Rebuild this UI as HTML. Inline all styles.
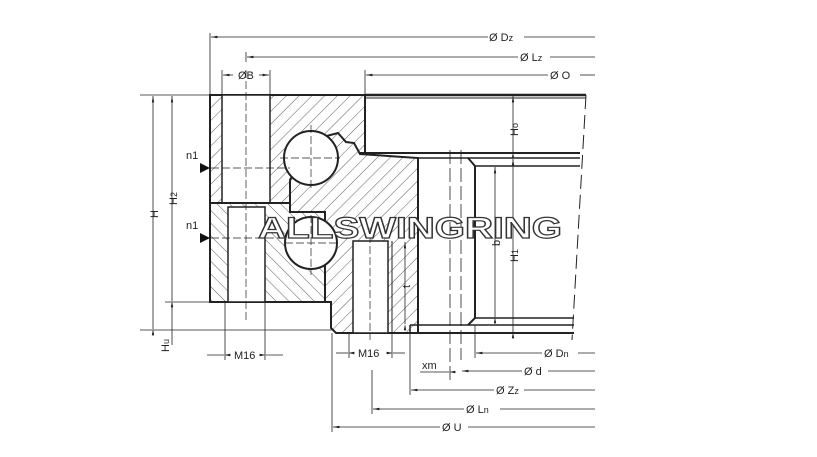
<!DOCTYPE html>
<html><head><meta charset="utf-8"><style>
html,body{margin:0;padding:0;background:#fff;}
svg{display:block;}
text{font-family:"Liberation Sans",Arial,sans-serif;fill:#222;}
</style></head><body>
<svg width="817" height="457" viewBox="0 0 817 457" xmlns="http://www.w3.org/2000/svg">
<defs>
<pattern id="hf" width="9" height="9" patternUnits="userSpaceOnUse" patternTransform="rotate(45)">
<rect width="9" height="9" fill="#fff"/><line x1="0" y1="0" x2="0" y2="9" stroke="#333" stroke-width="0.8"/></pattern>
<pattern id="hb" width="9" height="9" patternUnits="userSpaceOnUse" patternTransform="rotate(-45)">
<rect width="9" height="9" fill="#fff"/><line x1="0" y1="0" x2="0" y2="9" stroke="#333" stroke-width="0.8"/></pattern>
<marker id="ar" markerWidth="8" markerHeight="6" refX="0" refY="3" orient="auto"><path d="M0,3 L8,1.5 L8,4.5z" fill="#222"/></marker>
</defs>
<g stroke="#222" fill="none">
<!-- outer ring upper -->
<rect x="210" y="95" width="155" height="108" fill="url(#hf)" stroke-width="2"/>
<rect x="222" y="95" width="48" height="108" fill="#fff" stroke-width="1.5"/>
<!-- outer ring lower -->
<rect x="210" y="203" width="115" height="99" fill="url(#hb)" stroke-width="2"/>
<rect x="228" y="207" width="37" height="95" fill="#fff" stroke-width="1.5"/>
<!-- inner ring -->
<path d="M338,133 L346,142 L354,143 L360,154 L418,158 L418,333 L336,333 L331,328 L331,302 L325,302 L325,212 L290,212 L290,180 L311,140 Z" fill="url(#hf)" stroke-width="2"/>
<rect x="353" y="241" width="35" height="92" fill="#fff" stroke-width="1.5"/>
<line x1="392" y1="241" x2="392" y2="333" stroke-width="1"/>
<!-- bore / gear -->
<line x1="365" y1="95" x2="586" y2="95" stroke-width="2.5"/>
<line x1="365" y1="98" x2="586" y2="98" stroke-width="1"/>
<line x1="365" y1="95" x2="365" y2="153" stroke-width="2"/>
<line x1="360" y1="153" x2="580" y2="153" stroke-width="2"/>
<line x1="418" y1="158" x2="580" y2="158" stroke-width="1.5"/>
<path d="M468,158 L475,166 L475,318 L468,325" stroke-width="2"/>
<line x1="475" y1="166" x2="580" y2="166" stroke-width="1.5"/>
<line x1="475" y1="318" x2="574" y2="318" stroke-width="1.5"/>
<line x1="410" y1="325" x2="574" y2="325" stroke-width="1.5"/>
<line x1="410" y1="333" x2="574" y2="333" stroke-width="2"/>
<line x1="410" y1="325" x2="410" y2="333" stroke-width="1.5"/>
<line x1="586" y1="95" x2="572" y2="340" stroke-width="1" stroke-dasharray="14,6"/>
<line x1="450" y1="150" x2="450" y2="380" stroke-width="0.8" stroke-dasharray="14,4"/>
<line x1="461" y1="150" x2="461" y2="360" stroke-width="0.8" stroke-dasharray="14,4"/>
<!-- balls -->
<circle cx="311" cy="158" r="27" fill="#fff" stroke-width="2"/>
<circle cx="311" cy="243" r="26" fill="#fff" stroke-width="2"/>
<g stroke-width="0.7" stroke-dasharray="8,3">
<line x1="280" y1="158" x2="340" y2="158"/><line x1="311" y1="125" x2="311" y2="190"/>
<line x1="285" y1="243" x2="340" y2="243"/><line x1="311" y1="215" x2="311" y2="275"/>
<line x1="246" y1="70" x2="246" y2="320"/><line x1="370" y1="235" x2="370" y2="340"/>
<line x1="200" y1="168" x2="290" y2="168"/><line x1="200" y1="238" x2="290" y2="238"/>
</g>
<!-- extension lines -->
<g stroke-width="0.8">
<line x1="210" y1="33" x2="210" y2="95"/>
<line x1="246" y1="52" x2="246" y2="62"/>
<line x1="222" y1="70" x2="222" y2="95"/><line x1="270" y1="70" x2="270" y2="95"/>
<line x1="365" y1="70" x2="365" y2="95"/>
<line x1="140" y1="95" x2="210" y2="95"/>
<line x1="165" y1="302" x2="210" y2="302"/>
<line x1="140" y1="330" x2="332" y2="330"/>
<line x1="225" y1="302" x2="225" y2="360"/><line x1="265" y1="302" x2="265" y2="360"/>
<line x1="349" y1="333" x2="349" y2="358"/><line x1="392" y1="333" x2="392" y2="358"/>
<line x1="332" y1="333" x2="332" y2="432"/>
<line x1="372" y1="370" x2="372" y2="414"/>
<line x1="410" y1="333" x2="410" y2="395"/>
<line x1="475" y1="325" x2="475" y2="358"/>
<!-- dim lines -->
<line x1="211" y1="37" x2="488" y2="37" marker-start="url(#ar)"/><line x1="524" y1="37" x2="595" y2="37"/>
<line x1="247" y1="57" x2="518" y2="57" marker-start="url(#ar)"/><line x1="550" y1="57" x2="595" y2="57"/>
<line x1="366" y1="75" x2="548" y2="75" marker-start="url(#ar)"/><line x1="580" y1="75" x2="595" y2="75"/>
<line x1="223" y1="75" x2="233" y2="75" marker-start="url(#ar)"/><line x1="269" y1="75" x2="259" y2="75" marker-start="url(#ar)"/>
<line x1="153" y1="96" x2="153" y2="329" marker-start="url(#ar)" marker-end="url(#ar)"/>
<line x1="172" y1="96" x2="172" y2="301" marker-start="url(#ar)" marker-end="url(#ar)"/>
<line x1="172" y1="303" x2="172" y2="345"/>
<line x1="513" y1="96" x2="513" y2="152" marker-start="url(#ar)" marker-end="url(#ar)"/>
<line x1="513" y1="159" x2="513" y2="332" marker-start="url(#ar)" marker-end="url(#ar)"/>
<line x1="495" y1="167" x2="495" y2="317" marker-start="url(#ar)" marker-end="url(#ar)"/>
<line x1="405" y1="242" x2="405" y2="324" marker-start="url(#ar)" marker-end="url(#ar)"/>
<line x1="207" y1="355" x2="224" y2="355" marker-end="url(#ar)"/><line x1="283" y1="355" x2="266" y2="355" marker-end="url(#ar)"/>
<line x1="336" y1="353" x2="348" y2="353" marker-end="url(#ar)"/><line x1="405" y1="353" x2="393" y2="353" marker-end="url(#ar)"/>
<line x1="476" y1="353" x2="542" y2="353" marker-start="url(#ar)"/><line x1="578" y1="353" x2="595" y2="353"/>
<line x1="420" y1="372" x2="449" y2="372" marker-end="url(#ar)"/>
<line x1="462" y1="371" x2="522" y2="371" marker-start="url(#ar)"/><line x1="548" y1="371" x2="595" y2="371"/>
<line x1="411" y1="390" x2="494" y2="390" marker-start="url(#ar)"/><line x1="524" y1="390" x2="595" y2="390"/>
<line x1="373" y1="409" x2="464" y2="409" marker-start="url(#ar)"/><line x1="500" y1="409" x2="595" y2="409"/>
<line x1="333" y1="427" x2="440" y2="427" marker-start="url(#ar)"/><line x1="468" y1="427" x2="595" y2="427"/>
</g>
</g>
<path d="M200,163 L210,168 L200,173z" fill="#111"/>
<path d="M200,233 L210,238 L200,243z" fill="#111"/>
<g font-size="11">
<text x="489" y="41">Ø D<tspan font-size="9">z</tspan></text>
<text x="520" y="61">Ø L<tspan font-size="9">z</tspan></text>
<text x="550" y="79">Ø O</text>
<text x="238" y="79">ØB</text>
<text x="186" y="159">n1</text>
<text x="186" y="229">n1</text>
<text x="234" y="359">M16</text>
<text x="358" y="357">M16</text>
<text x="544" y="357">Ø D<tspan font-size="9">n</tspan></text>
<text x="422" y="369">xm</text>
<text x="524" y="375">Ø d</text>
<text x="496" y="394">Ø Z<tspan font-size="9">z</tspan></text>
<text x="466" y="413">Ø L<tspan font-size="9">n</tspan></text>
<text x="442" y="431">Ø U</text>
<text transform="translate(158,218) rotate(-90)">H</text>
<text transform="translate(177,205) rotate(-90)">H<tspan font-size="9">2</tspan></text>
<text transform="translate(169,352) rotate(-90)">H<tspan font-size="9">u</tspan></text>
<text transform="translate(518,136) rotate(-90)">H<tspan font-size="9">o</tspan></text>
<text transform="translate(518,262) rotate(-90)">H<tspan font-size="9">1</tspan></text>
<text transform="translate(500,246) rotate(-90)">b</text>
<text transform="translate(410,288) rotate(-90)">t</text>
</g>
<text x="258" y="238" font-size="30" font-weight="bold" fill="#fff" stroke="#333" stroke-width="1.2" textLength="304" lengthAdjust="spacingAndGlyphs" style="fill:#fff">ALLSWINGRING</text>
</svg>
</body></html>
